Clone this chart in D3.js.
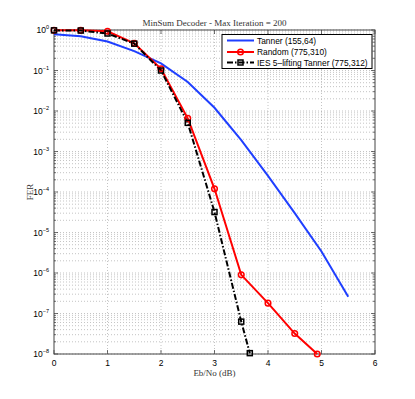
<!DOCTYPE html>
<html>
<head>
<meta charset="utf-8">
<title>MinSum Decoder</title>
<script src="https://d3js.org/d3.v7.min.js"></script>
<style>
  body { margin:0; background:#fff; }
  .tick-lbl { font-family: "Liberation Sans", Arial, sans-serif; font-size:8.5px; fill:#000; }
  .serif { font-family: "Liberation Serif", "DejaVu Serif", serif; fill:#333; }
  .grid { stroke:#aaa; stroke-width:0.7; stroke-dasharray:1,2; }
</style>
</head>
<body>
<svg width="415" height="399"></svg>
<script>
// Eb/No (dB) for each curve
var tannerX = [0, 0.5, 1, 1.5, 2, 2.5, 3, 3.5, 4, 4.5, 5, 5.5];
var tannerFER = [0.78, 0.70, 0.52, 0.30, 0.15, 0.052, 0.012, 1.9e-3, 2.5e-4, 3.0e-5, 3.4e-6, 2.6e-7];

var randomX = [0, 0.5, 1, 1.5, 2, 2.5, 3, 3.5, 4, 4.5, 4.92];
var randomFER = [0.98, 0.98, 0.93, 0.47, 0.11, 6.6e-3, 1.2e-4, 9.0e-7, 1.8e-7, 3.2e-8, 1.0e-8];

var iesX = [0, 0.5, 1, 1.5, 2, 2.5, 3, 3.5, 3.66];
var iesFER = [0.98, 0.97, 0.82, 0.46, 0.10, 5.1e-3, 3.2e-5, 6.3e-8, 1.05e-8];

var xTicks = [0, 1, 2, 3, 4, 5, 6];
var yExps = [0, -1, -2, -3, -4, -5, -6, -7, -8];
var legendNames = ["Tanner (155,64)", "Random (775,310)", "IES 5\u2013lifting Tanner (775,312)"];

var svg = d3.select("svg");
var pL = 54, pR = 375, pT = 30, pB = 354;

var x = d3.scaleLinear().domain([0, 6]).range([pL, pR]);
var y = d3.scaleLog().domain([1e-8, 1]).range([pB, pT]);

// grid
var minor = [];
yExps.forEach(function(e){
  if (e > -8) for (var k = 1; k < 10; k++) minor.push(k * Math.pow(10, e - 1));
});
minor.push(1);
svg.append("g").selectAll("line").data(minor).enter().append("line")
  .attr("class", "grid")
  .attr("x1", pL).attr("x2", pR)
  .attr("y1", function(d){ return y(d); }).attr("y2", function(d){ return y(d); });
svg.append("g").selectAll("line").data(xTicks.slice(1, -1)).enter().append("line")
  .attr("class", "grid")
  .attr("y1", pT).attr("y2", pB)
  .attr("x1", function(d){ return x(d); }).attr("x2", function(d){ return x(d); });

// ticks inside the box
var tg = svg.append("g").attr("stroke", "#333").attr("stroke-width", 0.7);
xTicks.forEach(function(t){
  tg.append("line").attr("x1", x(t)).attr("x2", x(t)).attr("y1", pB).attr("y2", pB - 4);
  tg.append("line").attr("x1", x(t)).attr("x2", x(t)).attr("y1", pT).attr("y2", pT + 4);
});
minor.forEach(function(d){
  var major = Math.abs(Math.log10(d) - Math.round(Math.log10(d))) < 1e-9;
  var len = major ? 4 : 2;
  tg.append("line").attr("x1", pL).attr("x2", pL + len).attr("y1", y(d)).attr("y2", y(d));
  tg.append("line").attr("x1", pR).attr("x2", pR - len).attr("y1", y(d)).attr("y2", y(d));
});

// tick labels
svg.append("g").selectAll("text").data(xTicks).enter().append("text")
  .attr("class", "tick-lbl")
  .attr("x", function(d){ return x(d); }).attr("y", 366)
  .attr("text-anchor", "middle")
  .text(function(d){ return d; });

var yl = svg.append("g").selectAll("text").data(yExps).enter().append("text")
  .attr("class", "tick-lbl")
  .attr("text-anchor", "end")
  .attr("x", 49)
  .attr("y", function(d){ return y(Math.pow(10, d)) + 3; });
yl.append("tspan").text("10");
yl.append("tspan").attr("dy", -4).style("font-size", "5.5px")
  .text(function(d){ return d === 0 ? "0" : "\u2212" + (-d); });

// box
svg.append("rect").attr("x", pL).attr("y", pT)
  .attr("width", pR - pL).attr("height", pB - pT)
  .attr("fill", "none").attr("stroke", "#444").attr("stroke-width", 1);

// titles
svg.append("text").attr("class", "serif").attr("x", (pL + pR) / 2).attr("y", 26)
  .attr("text-anchor", "middle").style("font-size", "9px")
  .text("MinSum Decoder - Max Iteration = 200");
svg.append("text").attr("class", "serif").attr("x", (pL + pR) / 2).attr("y", 376)
  .attr("text-anchor", "middle").style("font-size", "9px")
  .text("Eb/No (dB)");
svg.append("text").attr("class", "serif")
  .attr("transform", "translate(33," + ((pT + pB) / 2) + ") rotate(-90)")
  .attr("text-anchor", "middle").style("font-size", "9px")
  .text("FER");

// curves
var line = d3.line().x(function(d){ return x(d[0]); }).y(function(d){ return y(d[1]); });
var tanner = d3.zip(tannerX, tannerFER);
var random = d3.zip(randomX, randomFER);
var ies = d3.zip(iesX, iesFER);

svg.append("path").datum(tanner).attr("d", line)
  .attr("fill", "none").attr("stroke", "#1f3fff").attr("stroke-width", 2);
svg.append("path").datum(random).attr("d", line)
  .attr("fill", "none").attr("stroke", "#ff0000").attr("stroke-width", 2);
svg.append("path").datum(ies).attr("d", line)
  .attr("fill", "none").attr("stroke", "#000").attr("stroke-width", 2)
  .attr("stroke-dasharray", "6,2,1.5,2");

svg.append("g").selectAll("circle").data(random).enter().append("circle")
  .attr("cx", function(d){ return x(d[0]); }).attr("cy", function(d){ return y(d[1]); })
  .attr("r", 2.8).attr("fill", "none").attr("stroke", "#ff0000").attr("stroke-width", 1.5);
svg.append("g").selectAll("rect").data(ies).enter().append("rect")
  .attr("x", function(d){ return x(d[0]) - 2.5; }).attr("y", function(d){ return y(d[1]) - 2.5; })
  .attr("width", 5).attr("height", 5)
  .attr("fill", "none").attr("stroke", "#000").attr("stroke-width", 1.5);

// legend
var lg = svg.append("g");
lg.append("rect").attr("x", 222).attr("y", 34.5).attr("width", 150).attr("height", 34)
  .attr("fill", "#fff").attr("stroke", "#000").attr("stroke-width", 1);
var rows = [40.5, 52, 62.5];
lg.append("line").attr("x1", 227).attr("x2", 254).attr("y1", rows[0]).attr("y2", rows[0])
  .attr("stroke", "#1f3fff").attr("stroke-width", 2);
lg.append("line").attr("x1", 227).attr("x2", 254).attr("y1", rows[1]).attr("y2", rows[1])
  .attr("stroke", "#ff0000").attr("stroke-width", 2);
lg.append("circle").attr("cx", 240.5).attr("cy", rows[1]).attr("r", 2.8)
  .attr("fill", "none").attr("stroke", "#ff0000").attr("stroke-width", 1.5);
lg.append("line").attr("x1", 227).attr("x2", 254).attr("y1", rows[2]).attr("y2", rows[2])
  .attr("stroke", "#000").attr("stroke-width", 2).attr("stroke-dasharray", "6,2,1.5,2");
lg.append("rect").attr("x", 238).attr("y", rows[2] - 2.5).attr("width", 5).attr("height", 5)
  .attr("fill", "none").attr("stroke", "#000").attr("stroke-width", 1.5);
lg.selectAll("text.leg").data(legendNames).enter().append("text")
  .attr("class", "tick-lbl").style("font-size", "8.4px")
  .attr("x", 257).attr("y", function(d, i){ return rows[i] + 3; })
  .text(function(d){ return d; });
</script>
</body>
</html>
